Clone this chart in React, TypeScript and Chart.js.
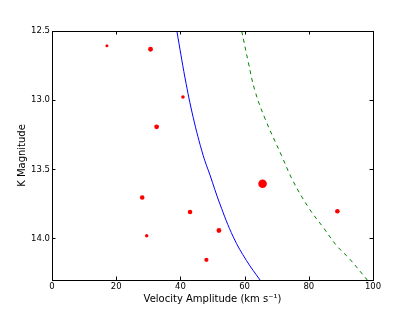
import React, { useEffect, useRef } from "react";
import { Chart, registerables } from "chart.js";

Chart.register(...registerables);

// Observed stars: velocity amplitude (km/s), K magnitude, marker radius
const starVelocity = [17.1, 30.7, 40.8, 32.6, 28.1, 43.0, 29.5, 48.1, 52.0, 65.6, 88.9];
const starKmag = [12.606, 12.632, 12.977, 13.193, 13.704, 13.808, 13.98, 14.154, 13.942, 13.604, 13.803];
const starSize = [1.5, 2.4, 1.8, 2.4, 2.3, 2.3, 1.7, 2.1, 2.4, 4.3, 2.3];

// Blue solid detection-limit curve
const blueVelocity = [38.9, 41.45, 44.0, 47.1, 49.2, 52.3, 56.5, 60.6, 64.8];
const blueKmag = [12.5, 12.84, 13.126, 13.4, 13.54, 13.75, 13.99, 14.16, 14.3];

// Green dashed detection-limit curve
const greenVelocity = [59.1, 61.1, 63.2, 66.3, 71.5, 75.1, 80.3, 84.5, 88.6, 92.8, 98.2];
const greenKmag = [12.5, 12.72, 12.93, 13.13, 13.4, 13.585, 13.79, 13.92, 14.05, 14.15, 14.3];

const xTicks = [0, 20, 40, 60, 80, 100];
const yTicks = [12.5, 13.0, 13.5, 14.0];

const FONT = "'DejaVu Sans', sans-serif";

const framePlugin = {
  id: "frame",
  afterDraw(chart: any) {
    const { ctx, chartArea: a, scales } = chart;
    ctx.save();
    ctx.strokeStyle = "#000";
    ctx.lineWidth = 1;
    const tl = 3.5;
    ctx.beginPath();
    for (const v of xTicks) {
      const px = Math.round(scales.x.getPixelForValue(v)) + 0.5;
      ctx.moveTo(px, a.bottom);
      ctx.lineTo(px, a.bottom - tl);
      ctx.moveTo(px, a.top);
      ctx.lineTo(px, a.top + tl);
    }
    for (const v of yTicks) {
      const py = Math.round(scales.y.getPixelForValue(v)) + 0.5;
      ctx.moveTo(a.left, py);
      ctx.lineTo(a.left + tl, py);
      ctx.moveTo(a.right, py);
      ctx.lineTo(a.right - tl, py);
    }
    ctx.stroke();
    ctx.strokeRect(Math.round(a.left) + 0.5, Math.round(a.top) + 0.5, Math.round(a.right - a.left), Math.round(a.bottom - a.top));
    ctx.restore();
  },
};

export default function App() {
  const ref = useRef<HTMLCanvasElement>(null);
  useEffect(() => {
    const stars = starVelocity.map((v, i) => ({ x: v, y: starKmag[i] }));
    const blue = blueVelocity.map((v, i) => ({ x: v, y: blueKmag[i] }));
    const green = greenVelocity.map((v, i) => ({ x: v, y: greenKmag[i] }));
    const chart = new Chart(ref.current!, {
      type: "scatter",
      data: {
        datasets: [
          {
            data: blue,
            showLine: true,
            borderColor: "#0000ff",
            borderWidth: 1,
            pointRadius: 0,
            tension: 0.4,
            fill: false,
          } as any,
          {
            data: green,
            showLine: true,
            borderColor: "#008000",
            borderWidth: 1,
            borderDash: [4, 4],
            pointRadius: 0,
            tension: 0.4,
            fill: false,
          } as any,
          {
            data: stars,
            pointRadius: starSize,
            pointBackgroundColor: "#ff0000",
            pointBorderColor: "#ff0000",
            pointBorderWidth: 0,
            showLine: false,
          } as any,
        ],
      },
      options: {
        responsive: false,
        animation: false,
        clip: { left: 0, top: 0, right: 0, bottom: 0 } as any,
        layout: { padding: { left: 0, top: 31, right: 42, bottom: 0 } },
        plugins: { legend: { display: false }, tooltip: { enabled: false } },
        scales: {
          x: {
            type: "linear",
            min: 0,
            max: 100,
            afterBuildTicks: (s: any) => {
              s.ticks = xTicks.map((v) => ({ value: v }));
            },
            afterFit: (s: any) => {
              s.height = 32;
            },
            grid: { display: false, drawTicks: false },
            border: { display: false },
            ticks: {
              color: "#000",
              padding: 2,
              font: { family: FONT, size: 8.5 },
              maxRotation: 0,
            },
            title: {
              display: true,
              text: "Velocity Amplitude (km s\u207B\u00B9)",
              color: "#000",
              font: { family: FONT, size: 10 },
              padding: { top: 0, bottom: 7 },
            },
          },
          y: {
            type: "linear",
            min: 12.5,
            max: 14.3,
            reverse: true,
            afterBuildTicks: (s: any) => {
              s.ticks = yTicks.map((v) => ({ value: v }));
            },
            afterFit: (s: any) => {
              s.width = 52;
            },
            grid: { display: false, drawTicks: false },
            border: { display: false },
            ticks: {
              color: "#000",
              padding: 2,
              font: { family: FONT, size: 8.5 },
              callback: (v: any) => Number(v).toFixed(1),
            },
            title: {
              display: true,
              text: "K Magnitude",
              color: "#000",
              font: { family: FONT, size: 10 },
              padding: { top: 16, bottom: 0 },
            },
          },
        },
      },
      plugins: [framePlugin],
    });
    return () => chart.destroy();
  }, []);
  return (
    <div style={{ position: "fixed", left: 0, top: 0, width: 415, height: 312, background: "#fff" }}>
      <canvas ref={ref} width={415} height={312} style={{ width: 415, height: 312, display: "block" }} />
    </div>
  );
}
